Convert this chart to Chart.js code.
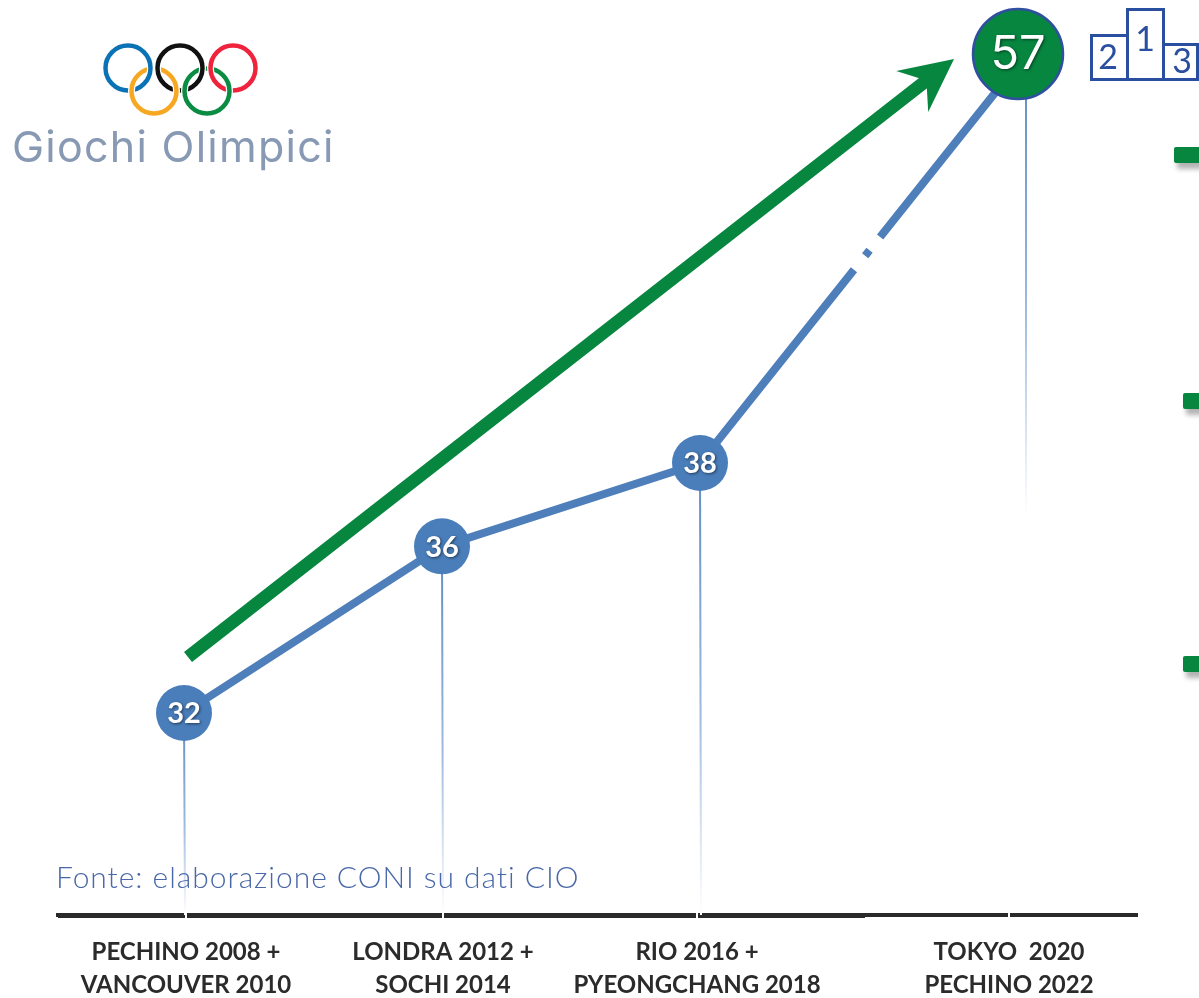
<!DOCTYPE html>
<html lang="it">
<head>
<meta charset="utf-8">
<title>Giochi Olimpici</title>
<script src="https://cdn.jsdelivr.net/npm/chart.js@4/dist/chart.umd.js"></script>
<style>
    html, body { margin: 0; background: #fff; }
    #pagina { position: relative; width: 1199px; height: 998px; overflow: hidden; }
    #grafico { position: absolute; left: 0; top: 0; }
    .sovra { position: absolute; left: 0; top: 0; }
    #titolo { position: absolute; left: 12px; top: 120px; font: 400 43px Inter, sans-serif; letter-spacing: 1.25px; color: #8899b4; white-space: nowrap; }
    #fonte { position: absolute; left: 56px; top: 858px; font: 300 30px Lato, sans-serif; letter-spacing: 0.95px; color: #4a68a8; white-space: nowrap; }
    .trattino { position: absolute; width: 30px; height: 16px; background: #078640; border-radius: 2px; box-shadow: 3px 6px 5px rgba(0,0,0,.3); }
</style>
</head>
<body>
<div id="pagina">
    <canvas id="grafico" width="1199" height="998"></canvas>

    <svg class="sovra" width="1199" height="130" viewBox="0 0 1199 130">
        <defs>
            <clipPath id="sopra"><rect x="90" y="30" width="180" height="49"></rect></clipPath>
            <g id="anelliSopra" fill="none" stroke-width="4.5">
                <circle cx="128" cy="68" r="22.5" stroke="#0b72b5"></circle>
                <circle cx="180" cy="68" r="22.5" stroke="#111"></circle>
                <circle cx="233" cy="68" r="22.5" stroke="#ef233c"></circle>
            </g>
            <g id="bordiSopra" fill="none" stroke-width="7" stroke="#fff">
                <circle cx="128" cy="68" r="22.5"></circle>
                <circle cx="180" cy="68" r="22.5"></circle>
                <circle cx="233" cy="68" r="22.5"></circle>
            </g>
        </defs>
        <use href="#anelliSopra"></use>
        <g fill="none" stroke="#fff" stroke-width="7">
            <circle cx="154" cy="91" r="22.5"></circle>
            <circle cx="207" cy="91" r="22.5"></circle>
        </g>
        <circle cx="154" cy="91" r="22.5" fill="none" stroke="#f7a823" stroke-width="4.5"></circle>
        <circle cx="207" cy="91" r="22.5" fill="none" stroke="#0a8c43" stroke-width="4.5"></circle>
        <g clip-path="url(#sopra)">
            <use href="#bordiSopra"></use>
            <use href="#anelliSopra"></use>
        </g>

        <!-- podio -->
        <g fill="#fff" stroke="#2b4fa0" stroke-width="3">
            <rect x="1091.5" y="35.5" width="36" height="44"></rect>
            <rect x="1163.5" y="44.5" width="34" height="35"></rect>
            <rect x="1127.5" y="9.5" width="36" height="70"></rect>
        </g>
        <g fill="#2b4fa0" font-family="Lato, sans-serif" font-size="34" text-anchor="middle">
            <text x="1108" y="69">2</text>
            <text x="1145" y="51">1</text>
            <text x="1182" y="73">3</text>
        </g>
    </svg>

    <div id="titolo">Giochi Olimpici</div>
    <div id="fonte">Fonte: elaborazione CONI su dati CIO</div>

    <div class="trattino" style="left:1174px;top:147px"></div>
    <div class="trattino" style="left:1183px;top:393px"></div>
    <div class="trattino" style="left:1183px;top:656px"></div>
</div>

<script>
// Dati
const categorie = [
    ['PECHINO 2008 +', 'VANCOUVER 2010'],
    ['LONDRA 2012 +', 'SOCHI 2014'],
    ['RIO 2016 +', 'PYEONGCHANG 2018'],
    ['TOKYO  2020', 'PECHINO 2022']
];
const valori = [32, 36, 38, 57];
const valoreFinale = [null, null, null, 57];

// Asse categorie con posizioni non uniformi, come nell'originale
class AsseTappe extends Chart.CategoryScale {
    static id = 'asseTappe';
    static defaults = Chart.CategoryScale.defaults;
    getPixelForValue(value) {
        const i = typeof value === 'number' ? value : this.parse(value);
        return this.options.tappe[i];
    }
}

// Asse lineare spezzato: tra 38 e 57 la scala e' compressa
class AsseSpezzato extends Chart.LinearScale {
    static id = 'asseSpezzato';
    static defaults = Chart.LinearScale.defaults;
    getPixelForValue(value) {
        const n = this.options.nodi;
        for (let i = 1; i < n.length; i++) {
            if (value <= n[i][0] || i === n.length - 1) {
                const t = (value - n[i - 1][0]) / (n[i][0] - n[i - 1][0]);
                return n[i - 1][1] + t * (n[i][1] - n[i - 1][1]);
            }
        }
    }
}

Chart.register(AsseTappe, AsseSpezzato);

// Linee verticali sotto ogni punto, sfumate verso il basso
const steli = {
    id: 'steli',
    beforeDatasetsDraw(chart) {
        const ctx = chart.ctx;
        const punti = chart.getDatasetMeta(1).data;
        const fondo = chart.chartArea.bottom;
        punti.forEach((p, i) => {
            const ultimo = i === punti.length - 1;
            const fine = ultimo ? 515 : fondo;
            const g = ctx.createLinearGradient(0, p.y, 0, fine);
            g.addColorStop(0, '#5f8ac4');
            g.addColorStop(0.55, '#9db9dc');
            g.addColorStop(0.85, '#dfe8f4');
            g.addColorStop(1, '#ffffff');
            ctx.save();
            ctx.strokeStyle = g;
            ctx.lineWidth = 2;
            ctx.beginPath();
            ctx.moveTo(p.x, p.y);
            ctx.lineTo(p.x + (ultimo ? 0 : 1), fine);
            ctx.stroke();
            ctx.restore();
        });
    }
};

// Freccia verde dal primo valore verso il 57
const freccia = {
    id: 'freccia',
    afterDatasetsDraw(chart) {
        const ctx = chart.ctx;
        const a = chart.getDatasetMeta(1).data[0];
        const b = chart.getDatasetMeta(0).data[3];
        const x0 = a.x + 4, y0 = a.y - 56;
        const x1 = b.x - 64, y1 = b.y + 5;
        const ang = Math.atan2(y1 - y0, x1 - x0);
        const lung = Math.hypot(x1 - x0, y1 - y0);
        ctx.save();
        ctx.translate(x0, y0);
        ctx.rotate(ang);
        ctx.fillStyle = '#078640';
        ctx.fillRect(0, -6.5, lung - 34, 13);
        ctx.beginPath();
        ctx.moveTo(lung, 0);
        ctx.lineTo(lung - 53, -26);
        ctx.lineTo(lung - 35, 0);
        ctx.lineTo(lung - 53, 26);
        ctx.closePath();
        ctx.fill();
        ctx.restore();
    }
};

// Valori scritti dentro i cerchi
const etichette = {
    id: 'etichette',
    afterDatasetsDraw(chart) {
        const ctx = chart.ctx;
        const scrivi = (testo, p, font) => {
            ctx.save();
            ctx.font = font;
            ctx.fillStyle = '#fff';
            ctx.textAlign = 'center';
            ctx.textBaseline = 'middle';
            ctx.shadowColor = 'rgba(0,0,0,.55)';
            ctx.shadowBlur = 3;
            ctx.shadowOffsetX = 1;
            ctx.shadowOffsetY = 1;
            ctx.fillText(testo, p.x, p.y + 1);
            ctx.restore();
        };
        chart.getDatasetMeta(1).data.slice(0, 3).forEach((p, i) => {
            scrivi(String(valori[i]), p, '700 29px Lato, sans-serif');
        });
        scrivi(String(valoreFinale[3]), chart.getDatasetMeta(0).data[3], '400 47px Inter, sans-serif');
    }
};

// Ritocchi dell'asse: tratto sinistro piu' spesso e tacche bianche
const ritocchiAsse = {
    id: 'ritocchiAsse',
    afterDraw(chart) {
        const ctx = chart.ctx;
        const scala = chart.scales.xEtichette;
        const y = chart.chartArea.bottom;
        ctx.save();
        ctx.fillStyle = '#2a2a2a';
        ctx.fillRect(scala.left, y + 1, 807, 2);
        ctx.fillStyle = '#fff';
        scala.ticks.forEach((t, i) => {
            ctx.fillRect(scala.getPixelForTick(i) - 1, y - 3, 2, 7);
        });
        ctx.restore();
    }
};

Chart.defaults.font.family = 'Lato, sans-serif';

new Chart(document.getElementById('grafico'), {
    type: 'line',
    data: {
        labels: categorie,
        datasets: [
            {
                label: 'Finale',
                data: valoreFinale,
                xAxisID: 'xFinale',
                yAxisID: 'y',
                showLine: false,
                pointRadius: 45,
                pointBackgroundColor: '#078640',
                pointBorderColor: '#2f4f9f',
                pointBorderWidth: 2.5,
                clip: false
            },
            {
                label: 'Medaglie',
                data: valori,
                xAxisID: 'x',
                yAxisID: 'y',
                borderColor: '#4f7fbb',
                borderWidth: 8,
                tension: 0,
                pointRadius: [28, 28, 28, 0],
                pointBackgroundColor: '#4a7ebb',
                pointBorderWidth: 0,
                clip: false,
                segment: {
                    // interruzione della linea prima del 57
                    borderDash: c => c.p1DataIndex === 3 ? [247, 18, 7, 17, 400] : undefined
                }
            }
        ]
    },
    options: {
        responsive: false,
        animation: false,
        layout: { padding: { left: 58, right: 62 } },
        plugins: { legend: { display: false }, tooltip: { enabled: false } },
        scales: {
            x: { type: 'asseTappe', display: false, tappe: [184, 442, 700, 1026] },
            xFinale: { type: 'asseTappe', display: false, tappe: [184, 442, 700, 1018] },
            xEtichette: {
                type: 'asseTappe',
                position: 'bottom',
                tappe: [186, 443, 697, 1009],
                grid: { display: false, drawTicks: false },
                border: { display: true, color: '#2a2a2a', width: 4 },
                afterFit: s => { s.height = 83; },
                ticks: {
                    autoSkip: false,
                    maxRotation: 0,
                    padding: 20,
                    color: '#2b2b2b',
                    font: { size: 24, weight: '700', lineHeight: 1.4 }
                }
            },
            y: {
                type: 'asseSpezzato',
                display: false,
                min: 27,
                max: 60,
                nodi: [[32, 713], [38, 463], [57, 54]]
            }
        }
    },
    plugins: [steli, freccia, etichette, ritocchiAsse]
});
</script>
</body>
</html>
